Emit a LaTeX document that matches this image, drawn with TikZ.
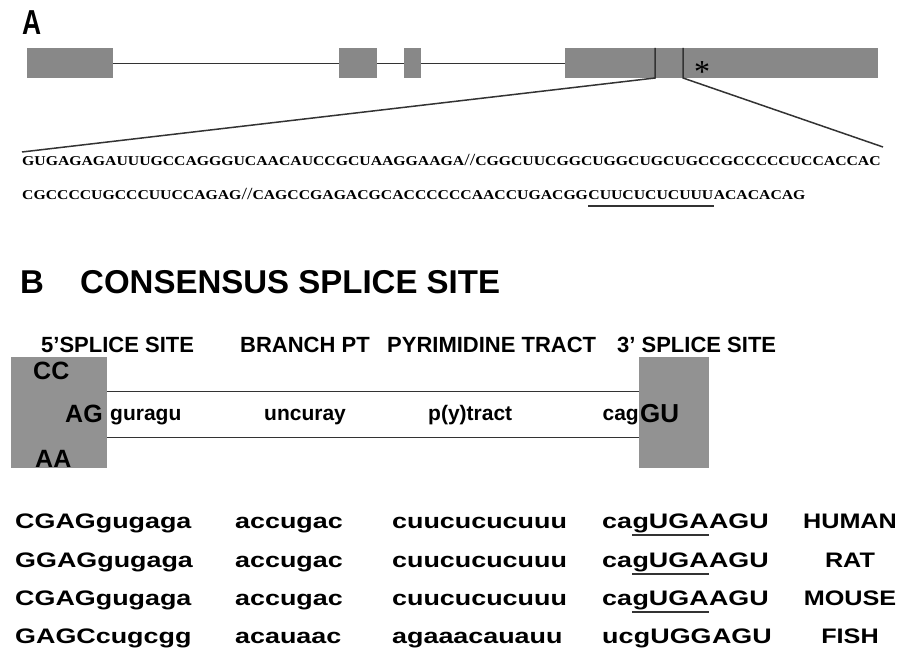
\documentclass[tikz,border=0pt]{standalone}
\usepackage{fontspec}
\setmainfont{Liberation Sans}
\newfontfamily\seqfont{Liberation Serif}
\usepackage{graphicx}
\usetikzlibrary{positioning}
\definecolor{exon}{HTML}{888888}
\definecolor{site}{HTML}{929292}
\definecolor{lin}{HTML}{333333}
\newcommand{\wide}[1]{\scalebox{1.28}[1]{#1}}
\newcommand{\spwide}[1]{\scalebox{1.2}[1]{#1}}
\newcommand{\seqwide}[1]{\scalebox{1.165}[1]{#1}}
\newcommand{\brk}{{\fontsize{17}{17}\selectfont\mdseries//}}
\tikzset{
  exonbox/.style={fill=exon, draw=none, inner sep=0pt, anchor=north west},
  sitebox/.style={fill=site, draw=none, inner sep=0pt, anchor=north west},
  intron/.style={lin, line width=1.3pt},
  zoomline/.style={lin, line width=1.5pt},
  uline/.style={lin, line width=1.3pt},
  txt/.style={inner sep=0pt, anchor=base west},
  seq/.style={txt, font=\seqfont\bfseries\fontsize{13.5}{13.5}\selectfont},
  head/.style={txt, font=\bfseries\fontsize{33}{33}\selectfont},
  lab/.style={txt, font=\bfseries\fontsize{22}{22}\selectfont},
  nuc/.style={txt, font=\bfseries\fontsize{25}{25}\selectfont},
  mid/.style={txt, font=\bfseries\fontsize{21}{21}\selectfont},
  row/.style={txt, font=\bfseries\fontsize{21}{21}\selectfont},
}
\begin{document}
\begin{tikzpicture}[x=1pt,y=-1pt]
  \useasboundingbox (0,0) rectangle (902,650);
  % part A: gene
  \node[head] (hA) at (22,35) {\scalebox{0.8}[1.05]{A}};
  \node[exonbox, minimum width=86pt, minimum height=30pt] (e1) at (27,48) {};
  \node[exonbox, minimum width=38pt, minimum height=30pt] (e2) at (339,48) {};
  \node[exonbox, minimum width=17pt, minimum height=30pt] (e3) at (404,48) {};
  \node[exonbox, minimum width=313pt, minimum height=30pt] (e4) at (565,48) {};
  \draw[intron] (e1.east) -- (e2.west);
  \draw[intron] (e2.east) -- (e3.west);
  \draw[intron] (e3.east) -- (e4.west);
  \node[anchor=base, inner sep=0pt, font=\seqfont\fontsize{32}{32}\selectfont] (star) at (702,83) {*};
  % zoom into the last exon
  \coordinate (c1t) at (655,48);
  \coordinate (c1b) at (655,78);
  \coordinate (c2t) at (683,48);
  \coordinate (c2b) at (683,78);
  \coordinate (z1) at (22,152);
  \coordinate (z2) at (883,147);
  \draw[zoomline] (c1t) -- (c1b) -- (z1);
  \draw[zoomline] (c2t) -- (c2b) -- (z2);
  % sequence
  \node[seq] (s1) at (22,165) {\seqwide{GUGAGAGAUUUGCCAGGGUCAACAUCCGCUAAGGAAGA\brk CGGCUUCGGCUGGCUGCUGCCGCCCCCUCCACCAC}};
  \node[seq] (s2a) at (22,199) {\seqwide{CGCCCCUGCCCUUCCAGAG\brk CAGCCGAGACGCACCCCCCAACCUGACGG}};
  \node[seq] (s2u) at (s2a.base east) {\seqwide{CUUCUCUCUUU}};
  \node[seq] (s2b) at (s2u.base east) {\seqwide{ACACACAG}};
  \draw[uline] ([yshift=-7pt]s2u.base west) -- ([yshift=-7pt]s2u.base east);
  % part B
  \node[head] (hB) at (20,293) {B};
  \node[head] (hBt) at (80,293) {CONSENSUS SPLICE SITE};
  \node[lab] (l5) at (41,352) {5’SPLICE SITE};
  \node[lab] (lbr) at (240,352) {BRANCH PT};
  \node[lab] (lpy) at (387,352) {PYRIMIDINE TRACT};
  \node[lab] (l3) at (617,352) {3’ SPLICE SITE};
  \node[sitebox, minimum width=96pt, minimum height=111pt] (ss5) at (11,357) {};
  \node[sitebox, minimum width=70pt, minimum height=111pt] (ss3) at (639,357) {};
  \draw[intron] ([yshift=21.5pt]ss5.east) -- ([yshift=21.5pt]ss3.west);
  \draw[intron] ([yshift=-24.5pt]ss5.east) -- ([yshift=-24.5pt]ss3.west);
  \node[nuc] (cc) at (33,379) {CC};
  \node[nuc] (ag) at (65,422) {AG};
  \node[nuc] (aa) at (35,467) {AA};
  \node[mid] (gur) at (110,420) {guragu};
  \node[mid] (unc) at (264,420) {uncuray};
  \node[mid] (pyt) at (428,420) {p(y)tract};
  \node[mid, anchor=base east] (cag) at (ss3.west |- 0,420) {cag};
  \node[txt, font=\bfseries\fontsize{26}{26}\selectfont] (gu) at (640,422) {GU};
  % species rows
  \foreach \i/\y/\ca/\cb/\cc/\da/\db/\dc/\sp in {
      1/528/CGAGgugaga/accugac/cuucucucuuu/ca/gUGA/AGU/HUMAN,
      2/567/GGAGgugaga/accugac/cuucucucuuu/ca/gUGA/AGU/RAT,
      3/605/CGAGgugaga/accugac/cuucucucuuu/ca/gUGA/AGU/MOUSE,
      4/643/GAGCcugcgg/acauaac/agaaacauauu/uc/gUGG/AGU/FISH}{
    \node[row] (a\i) at (15,\y) {\wide{\ca}};
    \node[row] (b\i) at (235,\y) {\wide{\cb}};
    \node[row] (c\i) at (392,\y) {\wide{\cc}};
    \node[row] (d\i) at (602,\y) {\wide{\da}};
    \node[row] (u\i) at (d\i.base east) {\wide{\db}};
    \node[row] (v\i) at (u\i.base east) {\wide{\dc}};
    \node[row, anchor=base] (sp\i) at (850,\y) {\spwide{\sp}};
  }
  \foreach \i in {1,2,3}
    \draw[uline] ([yshift=-7pt]u\i.base west) -- ([yshift=-7pt]u\i.base east);
\end{tikzpicture}
\end{document}
